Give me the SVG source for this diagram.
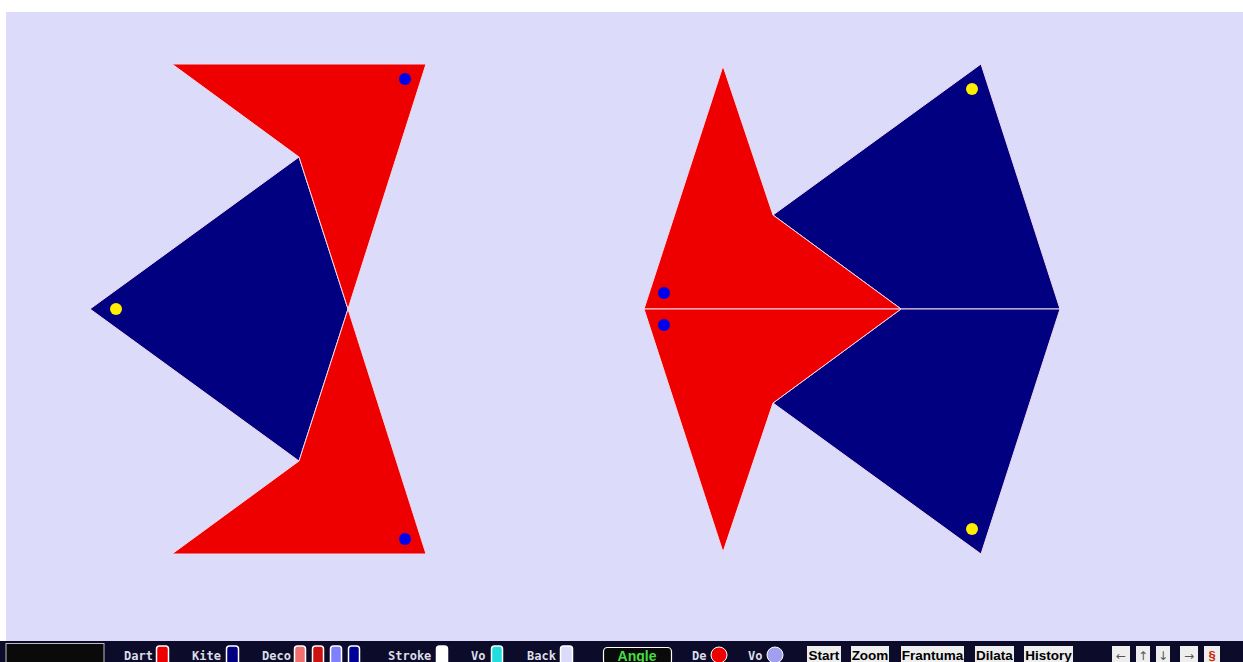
<svg xmlns="http://www.w3.org/2000/svg" width="1243" height="662" viewBox="0 0 1243 662">
<style>
.dart{fill:#ee0000;stroke:#f2d8e8;stroke-width:1}
.kite{fill:#000080;stroke:#f2d8e8;stroke-width:1}
.bd{fill:#0000ee}
.yd{fill:#ffee00}
.lbl{font-family:"DejaVu Sans Mono",monospace;font-weight:bold;font-size:12px;fill:#dddde8}
.sw{stroke:#ffffff;stroke-width:1.5}
.btn{fill:#eeeeee}
.bt{font-family:"Liberation Sans",Arial,sans-serif;font-weight:bold;font-size:13.5px;fill:#000}
</style>
<rect x="0" y="0" width="1243" height="662" fill="#ffffff"/>
<rect x="6" y="12" width="1237" height="630" fill="#dcdcfa"/>
<g id="left-figure">
<g id="kite-L"><polygon class="kite" points="90,309 299,157 348,309 299,461"/></g>
<g id="dart-L1"><polygon class="dart" points="172,64 426,64 348,309 299,157"/></g>
<g id="dart-L2"><polygon class="dart" points="172,554 426,554 348,309 299,461"/></g>
<circle class="bd" cx="405" cy="79" r="6"/>
<circle class="bd" cx="405" cy="539" r="6"/>
<circle class="yd" cx="116" cy="309" r="6"/>
</g>
<g id="right-figure">
<g id="kite-R1"><polygon class="kite" points="773,215 981,64 1060,309 901,309"/></g>
<g id="kite-R2"><polygon class="kite" points="901,309 1060,309 981,554 773,403"/></g>
<g id="dart-R1"><polygon class="dart" points="723,66 773,215 901,309 644,309"/></g>
<g id="dart-R2"><polygon class="dart" points="644,309 901,309 773,403 723,552"/></g>
<circle class="bd" cx="664" cy="293" r="6"/>
<circle class="bd" cx="664" cy="325" r="6"/>
<circle class="yd" cx="972" cy="89" r="6"/>
<circle class="yd" cx="972" cy="529" r="6"/>
</g>
<g id="connectors"></g>
<g id="toolbar">
<rect x="0" y="641" width="1243" height="21" fill="#0c0c2a"/>
<rect x="6" y="643.5" width="98" height="19" fill="#0a0a0a" stroke="#bbbbbb" stroke-width="1"/>
<text class="lbl" x="124" y="660">Dart</text>
<path class="sw" d="M156.5,662 V649 Q156.5,646 159.5,646 H165.5 Q168.5,646 168.5,649 V662" fill="#ee0000"/>
<text class="lbl" x="192" y="660">Kite</text>
<path class="sw" d="M226.5,662 V649 Q226.5,646 229.5,646 H235.5 Q238.5,646 238.5,649 V662" fill="#000080"/>
<text class="lbl" x="262" y="660">Deco</text>
<path class="sw" d="M294.5,662 V649 Q294.5,646 297.5,646 H302.5 Q305.5,646 305.5,649 V662" fill="#f07070"/>
<path class="sw" d="M312.5,662 V649 Q312.5,646 315.5,646 H320.5 Q323.5,646 323.5,649 V662" fill="#cc1111"/>
<path class="sw" d="M330.5,662 V649 Q330.5,646 333.5,646 H338.5 Q341.5,646 341.5,649 V662" fill="#8080ff"/>
<path class="sw" d="M348.5,662 V649 Q348.5,646 351.5,646 H356.5 Q359.5,646 359.5,649 V662" fill="#000099"/>
<text class="lbl" x="388" y="660">Stroke</text>
<path class="sw" d="M436.5,662 V649 Q436.5,646 439.5,646 H444.5 Q447.5,646 447.5,649 V662" fill="#ffffff"/>
<text class="lbl" x="471" y="660">Vo</text>
<path class="sw" d="M491.5,662 V649 Q491.5,646 494.5,646 H499.5 Q502.5,646 502.5,649 V662" fill="#22dddd"/>
<text class="lbl" x="527" y="660">Back</text>
<path class="sw" d="M560.5,662 V649 Q560.5,646 563.5,646 H569.5 Q572.5,646 572.5,649 V662" fill="#dcdcfa"/>
<rect x="603.5" y="647.5" width="68" height="17" rx="4" fill="#0a0a0a" stroke="#ffffff" stroke-width="1.2"/>
<text x="637" y="660.5" text-anchor="middle" font-family="Liberation Sans,Arial,sans-serif" font-weight="bold" font-size="14" fill="#44dd44">Angle</text>
<text class="lbl" x="692" y="660">De</text>
<circle cx="719" cy="655" r="8" fill="#ee0000" stroke="#ffffff" stroke-width="1"/>
<text class="lbl" x="748" y="660">Vo</text>
<circle cx="775" cy="655" r="8" fill="#a0a0ee" stroke="#ffffff" stroke-width="1"/>
<rect class="btn" x="807" y="646" width="34" height="16"/>
<text class="bt" x="824" y="660" text-anchor="middle">Start</text>
<rect class="btn" x="851" y="646" width="38" height="16"/>
<text class="bt" x="870" y="660" text-anchor="middle">Zoom</text>
<rect class="btn" x="901" y="646" width="63" height="16"/>
<text class="bt" x="932.5" y="660" text-anchor="middle">Frantuma</text>
<rect class="btn" x="975" y="646" width="39" height="16"/>
<text class="bt" x="994.5" y="660" text-anchor="middle">Dilata</text>
<rect class="btn" x="1024" y="646" width="49" height="16"/>
<text class="bt" x="1048.5" y="660" text-anchor="middle">History</text>
<rect class="btn" x="1112" y="646" width="18" height="16"/>
<text x="1121" y="660" text-anchor="middle" font-family="DejaVu Sans,sans-serif" font-size="12" fill="#555">←</text>
<rect class="btn" x="1136" y="646" width="14" height="16"/>
<text x="1143" y="660" text-anchor="middle" font-family="DejaVu Sans,sans-serif" font-size="12" fill="#555">↑</text>
<rect class="btn" x="1156" y="646" width="14" height="16"/>
<text x="1163" y="660" text-anchor="middle" font-family="DejaVu Sans,sans-serif" font-size="12" fill="#555">↓</text>
<rect class="btn" x="1180" y="646" width="18" height="16"/>
<text x="1189" y="660" text-anchor="middle" font-family="DejaVu Sans,sans-serif" font-size="12" fill="#555">→</text>
<rect class="btn" x="1204" y="646" width="16" height="16"/>
<text x="1212" y="660" text-anchor="middle" font-family="Liberation Sans,Arial,sans-serif" font-weight="bold" font-size="13" fill="#cc2200">§</text>
</g>
</svg>
